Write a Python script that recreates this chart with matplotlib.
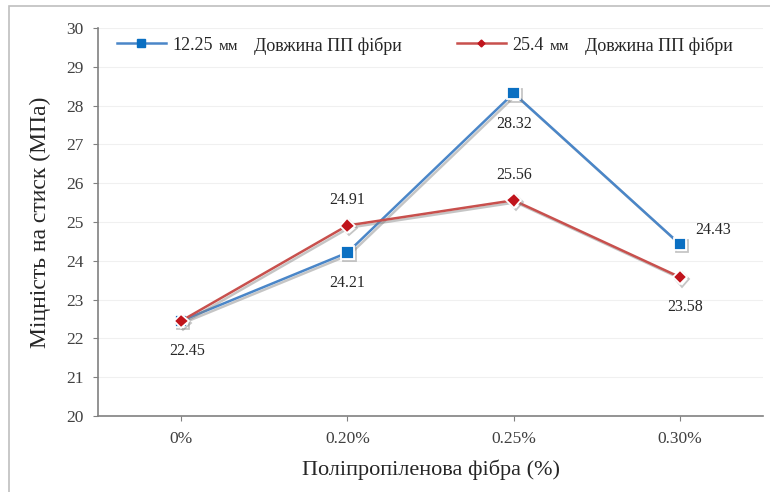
import matplotlib
matplotlib.use("Agg")
import matplotlib.pyplot as plt
import matplotlib.patheffects as pe
from matplotlib.lines import Line2D
from matplotlib.legend import Legend
from matplotlib.transforms import IdentityTransform

categories = ["0%", "0.20%", "0.25%", "0.30%"]
series_a = [22.45, 24.21, 28.32, 24.43]   # 12.25 мм
series_b = [22.45, 24.91, 25.56, 23.58]   # 25.4 мм
legend_nums = ["12.25", "25.4"]
legend_unit = "мм"
legend_desc = "Довжина ПП фібри"
yticks = list(range(20, 31))

plt.rcParams['font.family'] = ['Liberation Serif', 'DejaVu Serif']

fig = plt.figure(figsize=(7.7, 4.92), dpi=100)
fig.patches.append(plt.Rectangle((0.012, -0.01), 1.0, 0.998, transform=fig.transFigure,
                                 fill=False, edgecolor='#bfbfbf', linewidth=1.2))
ax = fig.add_axes([0.1273, 0.1545, 0.8636, 0.7885])

x = list(range(len(categories)))
shadow = [pe.SimpleLineShadow(offset=(1.5, -1.5), shadow_color='gray', alpha=0.45), pe.Normal()]

ax.plot(x, series_a, color='#4a86c8', linewidth=1.8, marker='s', markersize=9,
        markerfacecolor='#0a6fc2', markeredgecolor='white', markeredgewidth=1.3,
        path_effects=shadow, zorder=3)
ax.plot(x, series_b, color='#c8504d', linewidth=1.8, marker='D', markersize=7.5,
        markerfacecolor='#c0141c', markeredgecolor='white', markeredgewidth=1.3,
        path_effects=shadow, zorder=4)

fs = 11.5
tc = '#262626'
# labels for series a
offs_a = [(4, -22), (0, -21.5), (0, -22.5), (24, 10)]
for xi, v, o in zip(x, series_a, offs_a):
    ax.annotate(f"{v:.2f}", (xi, v), xytext=o, textcoords='offset points',
                ha='center', va='center', fontsize=fs, color=tc)
# labels for series b (first point shares its label with series a)
offs_b = [None, (0, 18.5), (0, 18.5), (4, -21.5)]
for xi, v, o in zip(x, series_b, offs_b):
    if o is None:
        continue
    ax.annotate(f"{v:.2f}", (xi, v), xytext=o, textcoords='offset points',
                ha='center', va='center', fontsize=fs, color=tc)

ax.set_xlim(-0.5, 3.5)
ax.set_ylim(20, 30)
ax.set_yticks(yticks)
ax.set_xticks(x)
ax.set_xticklabels(categories)
ax.tick_params(axis='both', labelsize=12.5, colors='#404040', length=3.6, color='#808080', pad=7)
ax.grid(axis='y', color='#f0f0f0', linewidth=0.8)
ax.set_axisbelow(True)
for s in ['top', 'right']:
    ax.spines[s].set_visible(False)
for s in ['left', 'bottom']:
    ax.spines[s].set_color('#808080')
    ax.spines[s].set_linewidth(1.2)

ax.set_ylabel("Міцність на стиск (МПа)", fontsize=17, color=tc, labelpad=11)
ax.set_xlabel("Поліпропіленова фібра (%)", fontsize=16, color=tc, labelpad=9)

h_a = Line2D([], [], color='#4a86c8', linewidth=1.8, marker='s', markersize=6,
             markerfacecolor='#0a6fc2', markeredgecolor='#0a6fc2')
h_b = Line2D([], [], color='#c8504d', linewidth=1.8, marker='D', markersize=3.5,
             markerfacecolor='#c0141c', markeredgecolor='#c0141c')

legs = []
for h, num, xa in [(h_a, legend_nums[0], 0.0286), (h_b, legend_nums[1], 0.540)]:
    leg = Legend(ax, [h], [num], loc='center left', bbox_to_anchor=(xa, 0.956),
                 frameon=False, fontsize=13, handlelength=2.7, handletextpad=0.35,
                 borderpad=0, borderaxespad=0, labelcolor=tc)
    ax.add_artist(leg)
    legs.append(leg)

fig.canvas.draw()
for leg in legs:
    bb = leg.get_texts()[0].get_window_extent()
    yc = (bb.y0 + bb.y1) / 2 - 1
    t1 = fig.text(bb.x1 + 6, yc, legend_unit, transform=IdentityTransform(),
                  fontsize=11, color=tc, va='center', ha='left')
    fig.canvas.draw()
    bb1 = t1.get_window_extent()
    fig.text(bb1.x1 + 16, yc, legend_desc, transform=IdentityTransform(),
             fontsize=13, color=tc, va='center', ha='left')

fig.savefig("out.png", dpi=100)
